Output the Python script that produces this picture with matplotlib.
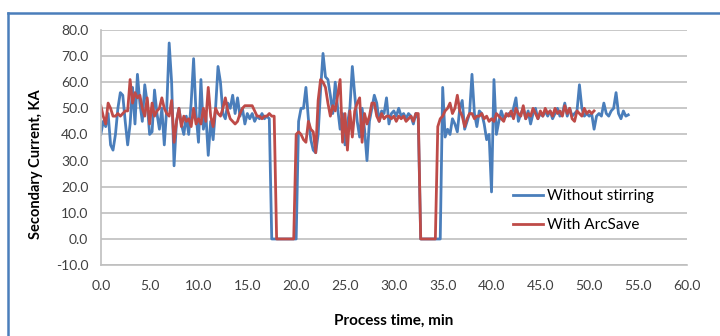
import numpy as np
import matplotlib
matplotlib.use("Agg")
import matplotlib.pyplot as plt
from matplotlib.lines import Line2D

plt.rcParams["font.family"] = ["Lato", "DejaVu Sans"]

BLUE = "#4a7ebb"
RED = "#be4b48"
GRID = "#bfbfbf"
TXT = "#404040"

STEP = 0.25  # sampling interval, min

# Secondary current without stirring (KA), one value every 0.25 min from 0
without_stirring = [
    40, 45, 43, 48, 36, 34, 40, 50,
    56, 55, 45, 36, 44, 58, 44, 63,
    52, 45, 59, 52, 40, 41, 57, 48,
    42, 50, 36, 50, 75, 60, 28, 45,
    50, 44, 40, 47, 40, 52, 69, 48,
    37, 61, 42, 48, 32, 45, 38, 50,
    66, 60, 48, 46, 52, 50, 55, 48,
    54, 47, 50, 44, 48, 46, 48, 45,
    47, 46, 48, 46, 47, 46, 0, 0,
    0, 0, 0, 0, 0, 0, 0, 0,
    0, 45, 50, 50, 58, 46, 38, 34,
    33, 40, 57, 71, 62, 61, 55, 48,
    60, 50, 42, 48, 36, 44, 50, 66,
    55, 45, 39, 50, 42, 30, 45, 50,
    55, 52, 45, 49, 48, 54, 44, 48,
    49, 47, 50, 47, 48, 46, 48, 47,
    44, 48, 46, 0, 0, 0, 0, 0,
    0, 0, 0, 0, 58, 39, 42, 40,
    46, 44, 41, 50, 53, 42, 45, 48,
    63, 48, 43, 49, 48, 44, 38, 40,
    18, 61, 40, 45, 49, 46, 47, 48,
    47, 50, 54, 45, 48, 50, 46, 49,
    44, 48, 50, 46, 48, 47, 49, 47,
    49, 46, 48, 50, 47, 48, 52, 47,
    50, 47, 48, 49, 59, 50, 47, 48,
    47, 48, 42, 47, 48, 47, 52, 48,
    47, 49, 50, 56, 48, 46, 49, 47,
    47.5,
]

# Secondary current with ArcSave (KA), same sampling
with_arcsave = [
    51, 47, 44, 52, 50, 47, 47, 48,
    47, 48, 49, 49, 61, 52, 56, 54,
    55, 50, 47, 54, 44, 52, 47, 49,
    50, 54, 50, 48, 47, 53, 37, 45,
    50, 43, 47, 45, 46, 43, 50, 44,
    46, 44, 50, 45, 58, 47, 43, 50,
    48, 47, 50, 54, 49, 46, 45, 44,
    45, 48, 50, 51, 51, 51, 51, 49,
    47, 47, 46, 47, 47, 48, 47, 47,
    0, 0, 0, 0, 0, 0, 0, 0,
    40, 41, 40, 38, 37, 45, 42, 41,
    33, 53, 61, 60, 58, 52, 47, 51,
    49, 55, 61, 37, 48, 34, 49, 39,
    49, 52, 54, 37, 48, 44, 47, 52,
    52, 47, 45, 48, 46, 47, 47, 46,
    47, 45, 47, 46, 47, 45, 46, 47,
    45, 48, 48, 0, 0, 0, 0, 0,
    0, 0, 43, 46, 47, 49, 50, 52,
    48, 50, 55, 49, 47, 43, 46, 48,
    48, 46, 47, 47, 48, 46, 47, 45,
    46, 45, 48, 47, 46, 45, 48, 47,
    49, 46, 50, 48, 47, 51, 46, 48,
    47, 50, 48, 46, 49, 47, 50, 48,
    49, 47, 50, 48, 49, 47, 51, 48,
    50, 46, 45, 49, 48, 47, 50, 48,
    49, 48, 49,
]

t_blue = np.arange(len(without_stirring)) * STEP
t_red = np.arange(len(with_arcsave)) * STEP

fig = plt.figure(figsize=(7.2, 3.36), dpi=100)
fig.patch.set_facecolor("white")
ax = fig.add_axes([0.140, 0.211, 0.814, 0.700])

ax.plot(t_blue, without_stirring, color=BLUE, lw=2.0, label="Without stirring")
ax.plot(t_red, with_arcsave, color=RED, lw=2.0, label="With ArcSave")

ax.set_xlim(0, 60)
ax.set_ylim(-10, 80)
ax.set_xticks(np.arange(0, 61, 5))
ax.set_yticks(np.arange(-10, 81, 10))
ax.xaxis.set_major_formatter(matplotlib.ticker.FormatStrFormatter("%.1f"))
ax.yaxis.set_major_formatter(matplotlib.ticker.FormatStrFormatter("%.1f"))
ax.tick_params(length=0, labelsize=10, colors=TXT)
ax.tick_params(axis="x", pad=11)
ax.tick_params(axis="y", pad=9)
ax.grid(axis="y", color=GRID, lw=1.2)
ax.set_axisbelow(True)
for s in ("top", "right"):
    ax.spines[s].set_visible(False)
for s in ("left", "bottom"):
    ax.spines[s].set_color(GRID)
    ax.spines[s].set_linewidth(1.2)

ax.set_xlabel("Process time, min", fontsize=11, fontweight="bold", color="black")
ax.set_ylabel("Secondary Current, KA", fontsize=10.5, fontweight="bold", color="black")
ax.xaxis.set_label_coords(0.5, -0.205)
ax.yaxis.set_label_coords(-0.098, 0.43)

ax.legend(loc="center left", bbox_to_anchor=(0.712, 0.373), bbox_transform=fig.transFigure,
          frameon=False, fontsize=11, handlelength=2.0, handletextpad=0.25,
          labelspacing=1.0, borderpad=0, borderaxespad=0)

# outer chart border (left and top edges visible)
fig.add_artist(Line2D([8 / 720, 8 / 720], [0, 1 - 13 / 336], color=BLUE, lw=1.8,
                      transform=fig.transFigure))
fig.add_artist(Line2D([8 / 720, 1], [1 - 13 / 336, 1 - 13 / 336], color=BLUE, lw=1.8,
                      transform=fig.transFigure))

fig.savefig("out.png", dpi=100, facecolor="white")
